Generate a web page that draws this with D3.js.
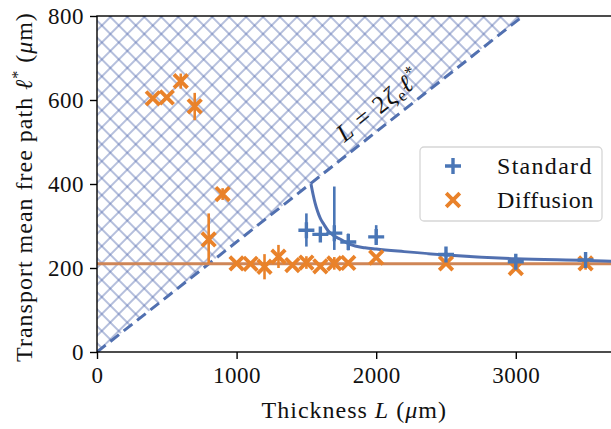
<!DOCTYPE html>
<html>
<head>
<meta charset="utf-8">
<script src="https://cdn.jsdelivr.net/npm/d3@7"></script>
<style>
  html, body { margin: 0; padding: 0; background: #fff; }
  svg { display: block; }
  text { font-family: "Liberation Serif", "DejaVu Serif", serif; fill: #111; }
</style>
</head>
<body>
<svg id="chart" width="611" height="429"></svg>
<script>
// ---------------- data ----------------
const xTicks = [0, 1000, 2000, 3000];
const yTicks = [0, 200, 400, 600, 800];
const xDomain = [0, 3700];
const yDomain = [0, 800];

// Standard (blue +)
const stdL   = [1500, 1600, 1700, 1800, 2000, 2500, 3000, 3500];
const stdVal = [290, 280, 283, 262, 274, 232, 215, 219];
const stdLo  = [251, 272, 243, 242, 259, 226, 209, 213];
const stdHi  = [330, 288, 394, 282, 302, 238, 221, 225];

// Diffusion (orange x)
const difL   = [400, 500, 600, 700, 800, 900, 1000, 1100, 1200, 1300, 1400, 1500, 1600, 1700, 1800, 2000, 2500, 3000, 3500];
const difVal = [604, 606, 645, 585, 268, 376, 211, 210, 203, 227, 207, 213, 204, 211, 212, 225, 211, 200, 211];
const difLo  = [600, 602, 627, 552, 211, 362, 207, 206, 173, 200, 203, 198, 200, 196, 208, 221, 207, 196, 196];
const difHi  = [608, 610, 663, 617, 330, 390, 215, 214, 233, 255, 211, 228, 208, 226, 216, 229, 215, 204, 226];

// Diffusion fit (horizontal)
const difFitL   = [0, 3700];
const difFitVal = [210, 210];

// Standard fit curve
const stdFitL   = [1533, 1548, 1562, 1580, 1600, 1625, 1657, 1700, 1740, 1812, 1920, 2000, 2200, 2500, 3000, 3500, 3700];
const stdFitVal = [400, 375, 355, 335, 318, 304, 288, 276, 269, 256, 248, 245, 239, 231, 222, 218, 216];

// Boundary L = 2 zeta_e l*
const boundL   = [0, 3052];
const boundVal = [0, 800];

// ---------------- layout ----------------
const M = { left: 97, top: 16, right: 613.5, bottom: 352 };
const blue = "#4a76b6", orange = "#e9822a";
const blueLine = "#5170b0", orangeLine = "#cf8657";

const svg = d3.select("#chart");
const x = d3.scaleLinear().domain(xDomain).range([M.left, M.right]);
const y = d3.scaleLinear().domain(yDomain).range([M.bottom, M.top]);

const defs = svg.append("defs");
defs.append("clipPath").attr("id", "plotclip")
  .append("rect").attr("x", M.left).attr("y", M.top)
  .attr("width", M.right - M.left).attr("height", M.bottom - M.top);

const pat = defs.append("pattern").attr("id", "hatch")
  .attr("patternUnits", "userSpaceOnUse").attr("width", 12).attr("height", 12)
  .attr("patternTransform", "rotate(45)");
pat.append("path").attr("d", "M0,6H12M6,0V12")
  .attr("stroke", "#5a72b2").attr("stroke-width", 0.9).attr("fill", "none");

const plot = svg.append("g").attr("clip-path", "url(#plotclip)");

// hatched region (above boundary)
const hatchPts = [[boundL[0], boundVal[0]], [boundL[0], yDomain[1]], [boundL[1], boundVal[1]]];
plot.append("path")
  .attr("d", d3.line().x(d => x(d[0])).y(d => y(d[1]))(hatchPts) + "Z")
  .attr("fill", "url(#hatch)").attr("stroke", "none");

// boundary dashed line
plot.append("path")
  .attr("d", d3.line().x(d => x(d[0])).y(d => y(d[1]))(boundL.map((l, i) => [l, boundVal[i]])))
  .attr("stroke", blueLine).attr("stroke-width", 3).attr("stroke-dasharray", "11,6")
  .attr("fill", "none");

// diffusion fit line
plot.append("path")
  .attr("d", d3.line().x(d => x(d[0])).y(d => y(d[1]))(difFitL.map((l, i) => [l, difFitVal[i]])))
  .attr("stroke", orangeLine).attr("stroke-width", 3).attr("fill", "none");

// standard fit curve
plot.append("path")
  .attr("d", d3.line().curve(d3.curveMonotoneX).x(d => x(d[0])).y(d => y(d[1]))(stdFitL.map((l, i) => [l, stdFitVal[i]])))
  .attr("stroke", blueLine).attr("stroke-width", 3).attr("fill", "none");

// error bars + markers
function drawSeries(Ls, vals, lo, hi, color, kind) {
  const g = plot.append("g");
  Ls.forEach((l, i) => {
    g.append("line").attr("x1", x(l)).attr("x2", x(l)).attr("y1", y(lo[i])).attr("y2", y(hi[i]))
      .attr("stroke", color).attr("stroke-width", 2.6);
  });
  Ls.forEach((l, i) => {
    const cx = x(l), cy = y(vals[i]);
    if (kind === "plus") {
      const s = 8;
      g.append("path").attr("d", `M${cx - s},${cy}H${cx + s}M${cx},${cy - s}V${cy + s}`)
        .attr("stroke", color).attr("stroke-width", 3.4).attr("fill", "none");
    } else {
      const s = 6.8;
      g.append("path").attr("d", `M${cx - s},${cy - s}L${cx + s},${cy + s}M${cx + s},${cy - s}L${cx - s},${cy + s}`)
        .attr("stroke", color).attr("stroke-width", 3.8).attr("fill", "none");
    }
  });
}
drawSeries(difL, difVal, difLo, difHi, orange, "x");
drawSeries(stdL, stdVal, stdLo, stdHi, blue, "plus");

// boundary label
(function () {
  const x0 = x(boundL[0]), y0 = y(boundVal[0]), x1 = x(boundL[1]), y1 = y(boundVal[1]);
  const ang = Math.atan2(y1 - y0, x1 - x0) * 180 / Math.PI;
  const len = Math.hypot(x1 - x0, y1 - y0);
  const t = 324 / len;
  const px = x0 + (x1 - x0) * t, py = y0 + (y1 - y0) * t;
  const txt = svg.append("text")
    .attr("transform", `translate(${px},${py}) rotate(${ang}) translate(0,-11)`)
    .attr("font-size", 25).attr("letter-spacing", 1.2);
  txt.append("tspan").attr("font-style", "italic").text("L");
  txt.append("tspan").text(" = 2");
  txt.append("tspan").attr("font-style", "italic").text("ζ");
  txt.append("tspan").attr("font-size", 17).attr("dy", 4).text("e");
  txt.append("tspan").attr("font-style", "italic").attr("dy", -4).text("ℓ");
  txt.append("tspan").attr("font-size", 17).attr("dy", -10).text("*");
})();

// spines
svg.append("rect").attr("x", M.left).attr("y", M.top)
  .attr("width", M.right - M.left).attr("height", M.bottom - M.top)
  .attr("fill", "none").attr("stroke", "#000").attr("stroke-width", 1.4);

// axes
const xAxis = d3.axisBottom(x).tickValues(xTicks).tickSize(7).tickPadding(6).tickFormat(d3.format("d"));
const gx = svg.append("g").attr("transform", `translate(0,${M.bottom})`).call(xAxis);
const yAxis = d3.axisLeft(y).tickValues(yTicks).tickSize(7).tickPadding(6).tickFormat(d3.format("d"));
const gy = svg.append("g").attr("transform", `translate(${M.left},0)`).call(yAxis);
[gx, gy].forEach(g => {
  g.select(".domain").remove();
  g.selectAll(".tick line").attr("stroke", "#000").attr("stroke-width", 1.4);
  g.selectAll(".tick text").attr("font-size", 23).attr("fill", "#111")
    .attr("letter-spacing", 0.5)
    .attr("font-family", "Liberation Serif, DejaVu Serif, serif");
});
gx.selectAll(".tick text").attr("dy", "0.78em");

// axis labels
const xl = svg.append("text").attr("x", (M.left + M.right) / 2 - 1).attr("y", 418)
  .attr("text-anchor", "middle").attr("font-size", 24).attr("letter-spacing", 1);
xl.append("tspan").text("Thickness ");
xl.append("tspan").attr("font-style", "italic").text("L");
xl.append("tspan").text(" (");
xl.append("tspan").attr("font-style", "italic").text("μ");
xl.append("tspan").text("m)");

const yl = svg.append("text").attr("transform", `translate(32,${(M.top + M.bottom) / 2 + 3}) rotate(-90)`)
  .attr("text-anchor", "middle").attr("font-size", 24).attr("letter-spacing", 1);
yl.append("tspan").text("Transport mean free path ");
yl.append("tspan").attr("font-style", "italic").text("ℓ");
yl.append("tspan").attr("font-size", 16).attr("dy", -9).text("*");
yl.append("tspan").attr("dy", 9).text(" (");
yl.append("tspan").attr("font-style", "italic").text("μ");
yl.append("tspan").text("m)");

// legend
const lg = svg.append("g");
lg.append("rect").attr("x", 420).attr("y", 147).attr("width", 182).attr("height", 74)
  .attr("rx", 4).attr("fill", "#fff").attr("fill-opacity", 0.85)
  .attr("stroke", "#d6d6d6").attr("stroke-width", 1.3);
const legItems = [
  { label: "Standard", color: blue, kind: "plus", cy: 166 },
  { label: "Diffusion", color: orange, kind: "x", cy: 200 }
];
legItems.forEach(it => {
  const cx = 453, cy = it.cy;
  if (it.kind === "plus") {
    const s = 8;
    lg.append("path").attr("d", `M${cx - s},${cy}H${cx + s}M${cx},${cy - s}V${cy + s}`)
      .attr("stroke", it.color).attr("stroke-width", 3.4).attr("fill", "none");
  } else {
    const s = 6.8;
    lg.append("path").attr("d", `M${cx - s},${cy - s}L${cx + s},${cy + s}M${cx + s},${cy - s}L${cx - s},${cy + s}`)
      .attr("stroke", it.color).attr("stroke-width", 3.8).attr("fill", "none");
  }
  lg.append("text").attr("x", 497).attr("y", cy + 8).attr("font-size", 24)
    .attr("letter-spacing", it.label === "Standard" ? 1.3 : 0.6).text(it.label);
});
</script>
</body>
</html>
